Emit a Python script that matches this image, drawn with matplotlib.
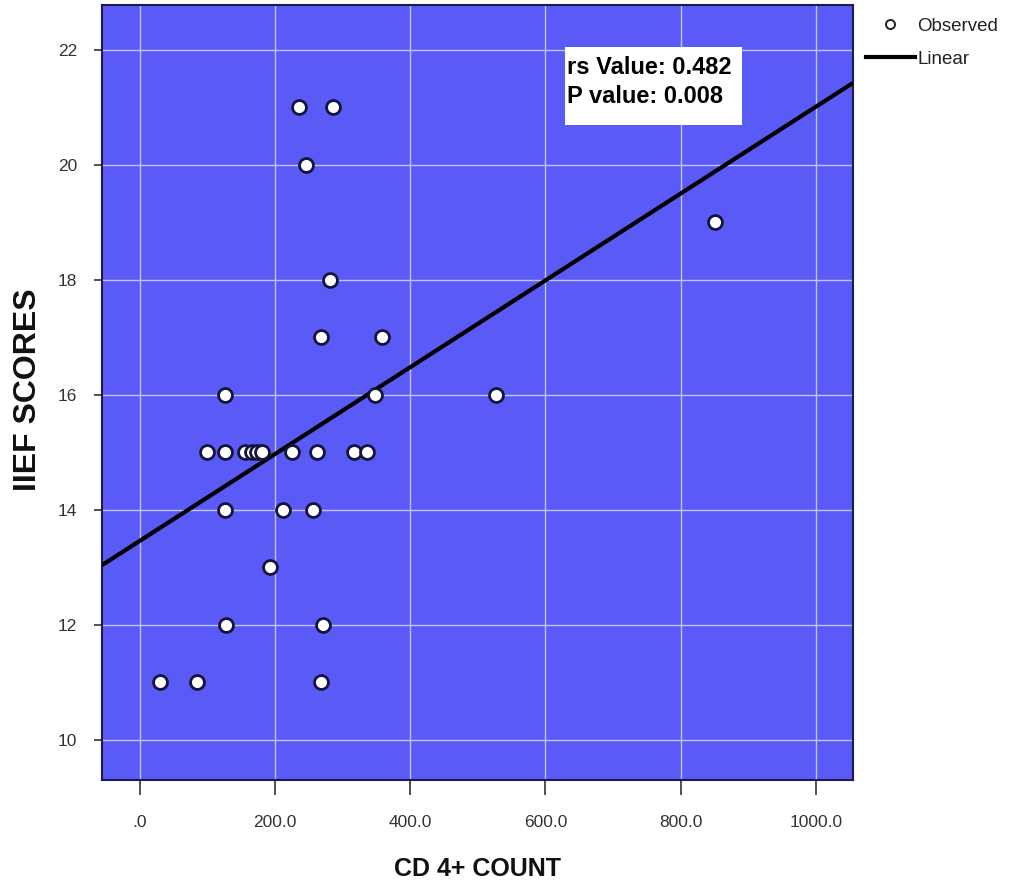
import matplotlib
matplotlib.use("Agg")
import matplotlib.pyplot as plt
from matplotlib.lines import Line2D
from matplotlib.patches import Rectangle
import numpy as np

plt.rcParams['font.family'] = ['Liberation Sans', 'DejaVu Sans']

# Data
cd4_count = [235, 286, 246, 851, 281, 268, 358, 126, 348, 527,
             99, 126, 155, 166, 173, 181, 225, 262, 317, 336,
             126, 212, 256, 192, 127, 271, 30, 84, 268]
iief_scores = [21, 21, 20, 19, 18, 17, 17, 16, 16, 16,
               15, 15, 15, 15, 15, 15, 15, 15, 15, 15,
               14, 14, 14, 13, 12, 12, 11, 11, 11]
fit_intercept = 13.46
fit_slope = 0.00755

x_ticks = [0, 200, 400, 600, 800, 1000]
x_tick_labels = ['.0', '200.0', '400.0', '600.0', '800.0', '1000.0']
y_ticks = [10, 12, 14, 16, 18, 20, 22]
y_tick_labels = ['10', '12', '14', '16', '18', '20', '22']
stats_text = "rs Value: 0.482\nP value: 0.008"

W, H = 1019, 884
fig = plt.figure(figsize=(W / 100, H / 100), dpi=100)
fig.patch.set_facecolor('white')

ax_l, ax_r, ax_t, ax_b = 102, 853, 5, 780
ax = fig.add_axes([ax_l / W, 1 - ax_b / H, (ax_r - ax_l) / W, (ax_b - ax_t) / H])
ax.set_facecolor('#5a5af6')
ax.set_xlim(-56, 1055)
ax.set_ylim(9.30, 22.78)

ax.set_xticks(x_ticks)
ax.set_xticklabels(x_tick_labels)
ax.set_yticks(y_ticks)
ax.set_yticklabels(y_tick_labels)
ax.grid(True, color='#c4c4f2', linewidth=1.0)
ax.set_axisbelow(True)

ax.tick_params(axis='x', direction='out', length=11, width=1.2, color='#333333',
               labelsize=12.5, labelcolor='#333333', pad=14)
ax.tick_params(axis='y', direction='out', length=6, width=1.2, color='#333333',
               labelsize=12.5, labelcolor='#333333', pad=12)
for s in ax.spines.values():
    s.set_color('#1c1c55')
    s.set_linewidth(1.5)

# regression line
xl = np.array(ax.get_xlim())
ax.plot(xl, fit_intercept + fit_slope * xl, color='black', linewidth=3.0, zorder=3,
        solid_capstyle='butt')

# observed points
ax.scatter(cd4_count, iief_scores, s=100, facecolor='white', edgecolor='#14143c',
           linewidth=2.0, zorder=4)

# stats box
bx0, by0, bx1, by1 = 565, 47, 742, 125
fig.patches.append(Rectangle((bx0 / W, 1 - by1 / H), (bx1 - bx0) / W, (by1 - by0) / H,
                             transform=fig.transFigure, facecolor='white',
                             edgecolor='none', zorder=5))
fig.text(567 / W, 1 - 82 / H, stats_text, ha='left', va='center', fontsize=17,
         fontweight='bold', color='black', linespacing=1.3, zorder=6)

# legend
handles = [Line2D([], [], marker='o', linestyle='none', markerfacecolor='white',
                  markeredgecolor='#222222', markersize=6.5, markeredgewidth=1.4),
           Line2D([], [], color='black', linewidth=3.0)]
fig.legend(handles, ['Observed', 'Linear'], loc='upper left',
           bbox_to_anchor=(862 / W, 1 - 14 / H), frameon=False, fontsize=13.5,
           handlelength=2.6, handletextpad=0.15, labelspacing=0.85,
           borderaxespad=0, borderpad=0.2, labelcolor='#222222')

# axis titles
fig.text(478 / W, 1 - 869 / H, 'CD 4+ COUNT', ha='center', va='center',
         fontsize=18, fontweight='bold', color='#111111')
fig.text(28 / W, 1 - 390 / H, 'IIEF SCORES', ha='center', va='center',
         rotation=90, fontsize=23, fontweight='bold', color='#111111')

fig.savefig('out.png', dpi=100)
